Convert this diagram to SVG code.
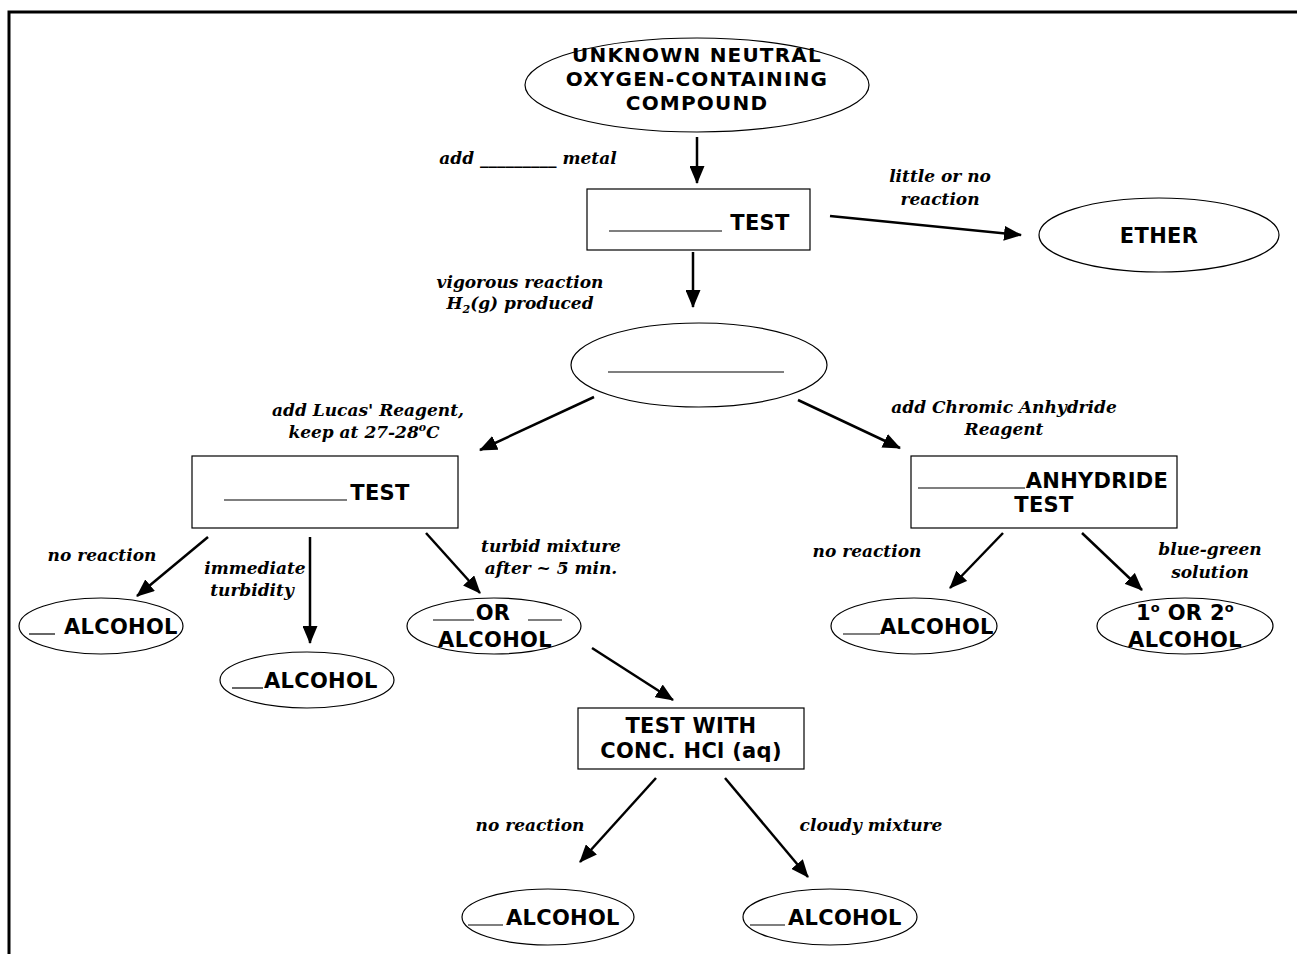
<svg xmlns="http://www.w3.org/2000/svg" width="1297" height="954" viewBox="0 0 1297 954">
  <style>
    .shape { fill: #ffffff; stroke: #000000; stroke-width: 1.2; }
    .cap { font-family: "DejaVu Sans", "Liberation Sans", sans-serif; font-weight: bold; font-size: 21px; letter-spacing: 0.3px; fill: #000; text-anchor: middle; }
    .start { text-anchor: start; }
    .title { font-size: 20px; letter-spacing: 1.2px; }
    .lbl { font-family: "DejaVu Serif", "Liberation Serif", serif; font-style: italic; font-weight: bold; font-size: 17px; fill: #000; text-anchor: middle; }
    .blank { stroke: #000; stroke-width: 1.2; }
    .edge { stroke: #000; stroke-width: 2.5; fill: none; marker-end: url(#head); }
  </style>
  <defs>
    <marker id="head" markerUnits="userSpaceOnUse" markerWidth="19" markerHeight="15" refX="17" refY="7.5" orient="auto">
      <path d="M0,0 L18,7.5 L0,15 z" fill="#000"/>
    </marker>
  </defs>
  <rect width="1297" height="954" fill="#ffffff"/>

  <!-- page frame -->
  <g id="frame" stroke="#000" stroke-width="3" fill="none">
    <path d="M9,954 L9,12 L1297,12"/>
  </g>

  <!-- connectors -->
  <g id="connectors">
    <line class="edge" x1="697" y1="137" x2="697" y2="183"/>
    <line class="edge" x1="830" y1="216" x2="1021" y2="235"/>
    <line class="edge" x1="693" y1="252" x2="693" y2="307"/>
    <line class="edge" x1="594" y1="397" x2="480" y2="450"/>
    <line class="edge" x1="798" y1="400" x2="900" y2="448"/>
    <line class="edge" x1="208" y1="537" x2="137" y2="596"/>
    <line class="edge" x1="310" y1="537" x2="310" y2="643"/>
    <line class="edge" x1="426" y1="533" x2="480" y2="593"/>
    <line class="edge" x1="592" y1="648" x2="673" y2="700"/>
    <line class="edge" x1="656" y1="778" x2="580" y2="862"/>
    <line class="edge" x1="725" y1="778" x2="808" y2="877"/>
    <line class="edge" x1="1003" y1="533" x2="950" y2="588"/>
    <line class="edge" x1="1082" y1="533" x2="1142" y2="590"/>
  </g>

  <!-- edge labels -->
  <g id="labels">
    <text class="lbl" x="528" y="164">add <tspan>_________</tspan> metal</text>
    <text class="lbl" x="940" y="182">little or no</text>
    <text class="lbl" x="940" y="205">reaction</text>
    <text class="lbl" x="520" y="288">vigorous reaction</text>
    <text class="lbl" x="520" y="309">H<tspan font-size="11" dy="4">2</tspan><tspan dy="-4">(g) produced</tspan></text>
    <text class="lbl" x="368" y="416">add Lucas' Reagent,</text>
    <text class="lbl" x="364" y="438">keep at 27-28<tspan font-size="11" dy="-7">o</tspan><tspan dy="7">C</tspan></text>
    <text class="lbl" x="1004" y="413">add Chromic Anhydride</text>
    <text class="lbl" x="1004" y="435">Reagent</text>
    <text class="lbl" x="102" y="561">no reaction</text>
    <text class="lbl" x="255" y="574">immediate</text>
    <text class="lbl" x="252" y="596">turbidity</text>
    <text class="lbl" x="551" y="552">turbid mixture</text>
    <text class="lbl" x="551" y="574">after ~ 5 min.</text>
    <text class="lbl" x="867" y="557">no reaction</text>
    <text class="lbl" x="1210" y="555">blue-green</text>
    <text class="lbl" x="1210" y="578">solution</text>
    <text class="lbl" x="530" y="831">no reaction</text>
    <text class="lbl" x="871" y="831">cloudy mixture</text>
  </g>

  <g id="n-unknown">
    <ellipse class="shape" cx="697" cy="85" rx="172" ry="47"/>
    <text class="cap title" x="697" y="62">UNKNOWN NEUTRAL</text>
    <text class="cap title" x="697" y="86">OXYGEN-CONTAINING</text>
    <text class="cap title" x="697" y="110">COMPOUND</text>
  </g>

  <g id="n-metal-test">
    <rect class="shape" x="587" y="189" width="223" height="61"/>
    <line class="blank" x1="609" y1="231" x2="722" y2="231"/>
    <text class="cap" x="760" y="230">TEST</text>
  </g>

  <g id="n-ether">
    <ellipse class="shape" cx="1159" cy="235" rx="120" ry="37"/>
    <text class="cap" x="1159" y="243">ETHER</text>
  </g>

  <g id="n-alcohol">
    <ellipse class="shape" cx="699" cy="365" rx="128" ry="42"/>
    <line class="blank" x1="608" y1="372" x2="784" y2="372"/>
  </g>

  <g id="n-lucas-test">
    <rect class="shape" x="192" y="456" width="266" height="72"/>
    <line class="blank" x1="224" y1="500" x2="347" y2="500"/>
    <text class="cap" x="380" y="500">TEST</text>
  </g>

  <g id="n-anhydride-test">
    <rect class="shape" x="911" y="456" width="266" height="72"/>
    <line class="blank" x1="918" y1="488" x2="1025" y2="488"/>
    <text class="cap" x="1097" y="488">ANHYDRIDE</text>
    <text class="cap" x="1044" y="512">TEST</text>
  </g>

  <g id="n-alc-left">
    <ellipse class="shape" cx="101" cy="626" rx="82" ry="28"/>
    <line class="blank" x1="29" y1="634" x2="55" y2="634"/>
    <text class="cap start" x="64" y="634">ALCOHOL</text>
  </g>

  <g id="n-alc-immediate">
    <ellipse class="shape" cx="307" cy="680" rx="87" ry="28"/>
    <line class="blank" x1="232" y1="688" x2="263" y2="688"/>
    <text class="cap start" x="264" y="688">ALCOHOL</text>
  </g>

  <g id="n-alc-or">
    <ellipse class="shape" cx="494" cy="626" rx="87" ry="28"/>
    <line class="blank" x1="433" y1="620" x2="474" y2="620"/>
    <text class="cap" x="493" y="620">OR</text>
    <line class="blank" x1="528" y1="620" x2="562" y2="620"/>
    <text class="cap" x="495" y="647">ALCOHOL</text>
  </g>

  <g id="n-hcl-test">
    <rect class="shape" x="578" y="708" width="226" height="61"/>
    <text class="cap" x="691" y="733">TEST WITH</text>
    <text class="cap" x="691" y="758">CONC. HCl (aq)</text>
  </g>

  <g id="n-alc-chromic-none">
    <ellipse class="shape" cx="914" cy="626" rx="83" ry="28"/>
    <line class="blank" x1="843" y1="634" x2="880" y2="634"/>
    <text class="cap start" x="880" y="634">ALCOHOL</text>
  </g>

  <g id="n-alc-primary-secondary">
    <ellipse class="shape" cx="1185" cy="626" rx="88" ry="28"/>
    <text class="cap" x="1185" y="620">1<tspan font-size="13" dy="-8">o</tspan><tspan dy="8"> OR 2</tspan><tspan font-size="13" dy="-8">o</tspan></text>
    <text class="cap" x="1185" y="647">ALCOHOL</text>
  </g>

  <g id="n-alc-hcl-none">
    <ellipse class="shape" cx="548" cy="917" rx="86" ry="28"/>
    <line class="blank" x1="468" y1="925" x2="503" y2="925"/>
    <text class="cap start" x="506" y="925">ALCOHOL</text>
  </g>

  <g id="n-alc-hcl-cloudy">
    <ellipse class="shape" cx="830" cy="917" rx="87" ry="28"/>
    <line class="blank" x1="750" y1="925" x2="785" y2="925"/>
    <text class="cap start" x="788" y="925">ALCOHOL</text>
  </g>
</svg>
